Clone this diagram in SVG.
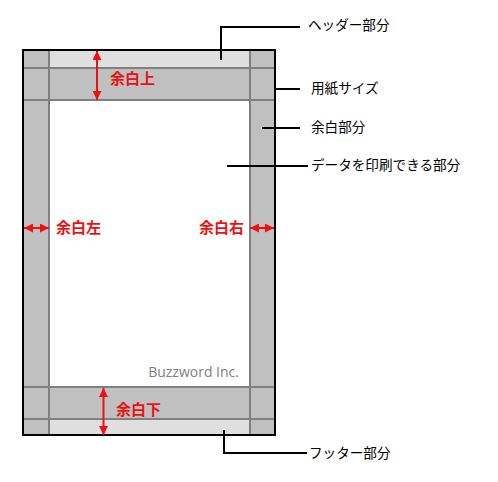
<svg xmlns="http://www.w3.org/2000/svg" width="498" height="482" viewBox="0 0 498 482">
<defs>
<marker id="ah" viewBox="0 0 10 10" refX="10" refY="5" markerWidth="4.5" markerHeight="4.5" orient="auto-start-reverse" markerUnits="strokeWidth">
<path d="M0,0 L10,5 L0,10 z" fill="#ee1111"/>
</marker>
<style>
.grid{stroke:#808080;stroke-width:2;fill:none}
.con{stroke:#000;stroke-width:2;fill:none}
.arr{stroke:#ee1111;stroke-width:2;fill:none}
.lbl{font-family:"Noto Sans CJK JP",sans-serif;font-size:13.6px;fill:#000}
.red{font-family:"Noto Sans CJK JP",sans-serif;font-size:15px;font-weight:bold;fill:#ee1111}
</style>
</defs>
<rect width="498" height="482" fill="#fff"/>
<g id="page">
<rect x="23" y="50" width="252" height="385" fill="#c0c0c0"/>
<rect x="49" y="50" width="201" height="18" fill="#e0dfdf"/>
<rect x="49" y="419" width="201" height="16" fill="#e0dfdf"/>
<rect x="49" y="100" width="201" height="287" fill="#fff"/>
<line class="grid" x1="49" y1="50" x2="49" y2="435"/>
<line class="grid" x1="250" y1="50" x2="250" y2="435"/>
<line class="grid" x1="23" y1="68" x2="275" y2="68"/>
<line class="grid" x1="23" y1="100" x2="275" y2="100"/>
<line class="grid" x1="23" y1="387" x2="275" y2="387"/>
<line class="grid" x1="23" y1="419" x2="275" y2="419"/>
<rect x="23" y="50" width="252" height="385" fill="none" stroke="#000" stroke-width="2"/>
<text x="239" y="377" text-anchor="end" font-family="Open Sans, sans-serif" font-size="14" fill="#808080">Buzzword Inc.</text>
</g>
<g id="margins">
<line class="arr" x1="97" y1="51" x2="97" y2="100" marker-start="url(#ah)" marker-end="url(#ah)"/>
<text class="red" x="110" y="84">余白上</text>
<line class="arr" x1="103.5" y1="388" x2="103.5" y2="435" marker-start="url(#ah)" marker-end="url(#ah)"/>
<text class="red" x="116" y="415">余白下</text>
<line class="arr" x1="24" y1="228" x2="49" y2="228" marker-start="url(#ah)" marker-end="url(#ah)"/>
<text class="red" x="56" y="233">余白左</text>
<line class="arr" x1="250" y1="228" x2="274" y2="228" marker-start="url(#ah)" marker-end="url(#ah)"/>
<text class="red" x="244" y="233" text-anchor="end">余白右</text>
</g>
<g id="connectors">
<polyline class="con" points="221,60 221,27 300,27"/>
<line class="con" x1="275" y1="89" x2="300" y2="89"/>
<line class="con" x1="262" y1="128" x2="300" y2="128"/>
<line class="con" x1="227" y1="166" x2="308" y2="166"/>
<polyline class="con" points="224,430 224,453 307,453"/>
</g>
<g id="labels">
<text class="lbl" x="308" y="30">ヘッダー部分</text>
<text class="lbl" x="311" y="93">用紙サイズ</text>
<text class="lbl" x="311" y="132">余白部分</text>
<text class="lbl" x="311" y="170">データを印刷できる部分</text>
<text class="lbl" x="309" y="458">フッター部分</text>
</g>
</svg>
